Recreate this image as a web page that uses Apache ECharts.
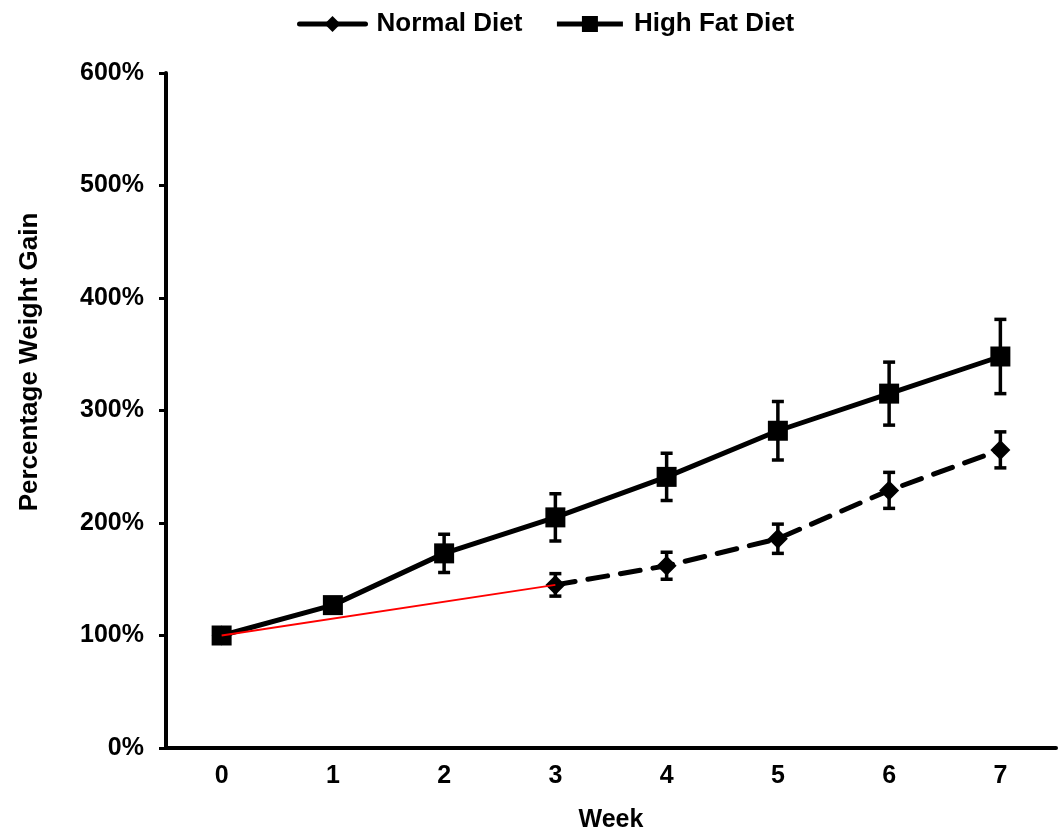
<!DOCTYPE html>
<html>
<head>
<meta charset="utf-8">
<script src="https://cdn.jsdelivr.net/npm/echarts@6/dist/echarts.min.js"></script>
<style>
html,body{margin:0;padding:0;background:#fff;}
#chart{width:1064px;height:831px;}
</style>
</head>
<body>
<div id="chart"></div>
<script>
var weeks = ['0','1','2','3','4','5','6','7'];
var hfdMean = [100, 127, 173, 205, 241, 282, 315, 348];
var hfdErr  = [0, 5, 17, 21, 21, 26, 28, 33];
var ndMean  = [100, null, null, 145, 162, 186, 229, 265];
var ndErr   = [0, null, null, 10, 12, 13, 16, 16];
var yTicks  = [0, 100, 200, 300, 400, 500, 600];

var FONT = 'Liberation Sans, Arial, sans-serif';

// red connector only covers week 0 to week 3
var redConnector = ndMean.map(function (v, i) { return i <= 3 ? v : null; });

function errData(mean, err) {
  var out = [];
  for (var i = 0; i < mean.length; i++) {
    if (mean[i] != null && err[i] != null && err[i] > 0) {
      out.push([i, mean[i] - err[i], mean[i] + err[i]]);
    }
  }
  return out;
}

function renderErr(params, api) {
  var x = api.value(0);
  var lo = api.coord([x, api.value(1)]);
  var hi = api.coord([x, api.value(2)]);
  var cw = 6;
  var st = { stroke: '#000', lineWidth: 3.5 };
  return {
    type: 'group',
    children: [
      { type: 'line', shape: { x1: lo[0], y1: lo[1], x2: hi[0], y2: hi[1] }, style: st },
      { type: 'line', shape: { x1: lo[0] - cw, y1: lo[1], x2: lo[0] + cw, y2: lo[1] }, style: st },
      { type: 'line', shape: { x1: hi[0] - cw, y1: hi[1], x2: hi[0] + cw, y2: hi[1] }, style: st }
    ]
  };
}

var chart = echarts.init(document.getElementById('chart'));
chart.setOption({
  animation: false,
  backgroundColor: '#fff',
  textStyle: { fontFamily: FONT },
  legend: {
    top: 6,
    left: 292,
    itemWidth: 66,
    itemHeight: 20,
    itemGap: 32,
    textStyle: { fontFamily: FONT, fontWeight: 'bold', fontSize: 26, color: '#000', padding: [0, 0, 0, 6] },
    data: [
      { name: 'Normal Diet', lineStyle: { type: 'solid', width: 5 } },
      { name: 'High Fat Diet', lineStyle: { width: 5 } }
    ]
  },
  grid: { left: 166, right: 8, top: 73, bottom: 83, containLabel: false, outerBoundsMode: 'none' },
  xAxis: {
    type: 'category',
    data: weeks,
    boundaryGap: true,
    name: 'Week',
    nameLocation: 'middle',
    nameGap: 60,
    nameTextStyle: { fontFamily: FONT, fontWeight: 'bold', fontSize: 25, color: '#000', verticalAlign: 'top' },
    axisLine: { lineStyle: { color: '#000', width: 4 } },
    axisTick: { show: false },
    axisLabel: { margin: 16, fontFamily: FONT, fontWeight: 'bold', fontSize: 25, color: '#000' },
    splitLine: { show: false }
  },
  yAxis: {
    type: 'value',
    min: yTicks[0],
    max: yTicks[yTicks.length - 1],
    interval: 100,
    axisLine: { show: true, lineStyle: { color: '#000', width: 4 } },
    axisTick: { show: true, inside: false, length: 7, lineStyle: { color: '#000', width: 3 } },
    axisLabel: { margin: 22, fontFamily: FONT, fontWeight: 'bold', fontSize: 25, color: '#000', formatter: '{value}%' },
    splitLine: { show: false }
  },
  graphic: [{
    type: 'text',
    x: 30,
    y: 362,
    rotation: Math.PI / 2,
    style: {
      text: 'Percentage Weight Gain',
      font: 'bold 26px ' + FONT,
      fill: '#000',
      align: 'center',
      verticalAlign: 'middle'
    }
  }],
  series: [
    {
      name: 'Normal Diet',
      type: 'line',
      data: ndMean,
      connectNulls: false,
      symbol: 'diamond',
      symbolSize: [20, 20],
      showAllSymbol: true,
      itemStyle: { color: '#000' },
      lineStyle: { color: '#000', width: 5, type: [20, 13], cap: 'round' },
      z: 3
    },
    {
      name: 'High Fat Diet',
      type: 'line',
      data: hfdMean,
      symbol: 'rect',
      symbolSize: 20,
      itemStyle: { color: '#000' },
      lineStyle: { color: '#000', width: 5 },
      z: 4
    },
    {
      name: 'ND err',
      type: 'custom',
      renderItem: renderErr,
      data: errData(ndMean, ndErr),
      z: 5,
      silent: true
    },
    {
      name: 'HFD err',
      type: 'custom',
      renderItem: renderErr,
      data: errData(hfdMean, hfdErr),
      z: 5,
      silent: true
    },
    {
      name: 'connector',
      type: 'line',
      data: redConnector,
      connectNulls: true,
      symbol: 'none',
      lineStyle: { color: '#ff0000', width: 1.8 },
      z: 6,
      silent: true
    }
  ]
});
</script>
</body>
</html>
